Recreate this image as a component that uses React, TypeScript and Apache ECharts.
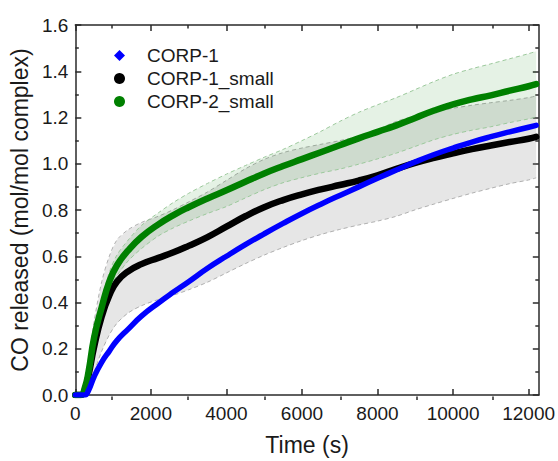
import React, { useEffect, useRef } from "react";
import * as echarts from "echarts";

// Time samples (s)
const times = [0, 150, 250, 350, 500, 700, 900, 1100, 1400, 1750, 2200, 2600, 3000, 3500, 4000, 4500, 5000, 5500, 6000, 6500, 7000, 7500, 8000, 8500, 9000, 9500, 10000, 10500, 11000, 11500, 12000, 12200];

// CO released (mol/mol complex)
const corp1 = [0, 0, 0, 0.02, 0.08, 0.142, 0.19, 0.235, 0.285, 0.341, 0.398, 0.445, 0.49, 0.548, 0.6, 0.65, 0.697, 0.742, 0.785, 0.825, 0.863, 0.9, 0.937, 0.973, 1.008, 1.04, 1.068, 1.094, 1.117, 1.138, 1.158, 1.166];
const corp1Small = [0, 0, 0.02, 0.085, 0.21, 0.34, 0.43, 0.49, 0.535, 0.566, 0.593, 0.617, 0.645, 0.683, 0.728, 0.773, 0.812, 0.843, 0.868, 0.889, 0.908, 0.927, 0.95, 0.978, 1.004, 1.026, 1.045, 1.063, 1.079, 1.094, 1.108, 1.116];
const corp2Small = [0, 0, 0.03, 0.10, 0.25, 0.38, 0.49, 0.56, 0.625, 0.683, 0.738, 0.778, 0.812, 0.85, 0.885, 0.922, 0.958, 0.99, 1.02, 1.05, 1.08, 1.11, 1.138, 1.166, 1.198, 1.23, 1.257, 1.278, 1.296, 1.316, 1.335, 1.344];

// Error (± half-width) of the shaded bands
const corp1SmallErr = [0, 0, 0.02, 0.06, 0.11, 0.15, 0.17, 0.18, 0.18, 0.18, 0.18, 0.185, 0.19, 0.195, 0.2, 0.205, 0.207, 0.205, 0.2, 0.195, 0.192, 0.192, 0.198, 0.205, 0.203, 0.2, 0.195, 0.19, 0.185, 0.18, 0.178, 0.177];
const corp2SmallErr = [0, 0, 0.01, 0.02, 0.03, 0.035, 0.04, 0.045, 0.045, 0.05, 0.05, 0.055, 0.06, 0.065, 0.07, 0.07, 0.07, 0.072, 0.08, 0.09, 0.103, 0.112, 0.117, 0.12, 0.123, 0.126, 0.13, 0.133, 0.136, 0.138, 0.141, 0.142];

// Axis ticks
const xMajorTicks = [0, 2000, 4000, 6000, 8000, 10000, 12000];
const xMinorTicks = [1000, 3000, 5000, 7000, 9000, 11000];
const X_MAX = 12270;
const Y_MAX = 1.6;

const seriesNames = ["CORP-1", "CORP-1_small", "CORP-2_small"];

export default function App() {
  const ref = useRef<HTMLDivElement>(null);

  useEffect(() => {
    document.body.style.margin = "0";
    const chart = echarts.init(ref.current as HTMLDivElement, null, { renderer: "svg" });
    const font = "'Liberation Sans', Arial, Helvetica, sans-serif";
    const axisColor = "#2a2a2a";
    const textColor = "#1a1a1a";
    const rect = { left: 74, right: 17, top: 25, bottom: 61 };

    const pts = (vals: number[]) => times.map((t, i) => [t, vals[i]]);

    const majorX = (pos: string, labels: boolean, extra: any = {}) => ({
      gridIndex: 0,
      type: "value",
      position: pos,
      min: 0,
      max: X_MAX,
      interval: 2000,
      axisLine: { show: true, onZero: false, lineStyle: { color: axisColor, width: 1.5 } },
      axisTick: { show: true, inside: true, length: 6, customValues: xMajorTicks, lineStyle: { color: axisColor, width: 1.5 } },
      axisLabel: labels
        ? { show: true, customValues: xMajorTicks, fontSize: 19, color: textColor, fontFamily: font, margin: 9, formatter: (v: number) => String(v) }
        : { show: false },
      splitLine: { show: false },
      ...extra,
    });
    const minorX = (pos: string) => ({
      gridIndex: 1,
      type: "value",
      position: pos,
      min: 0,
      max: X_MAX,
      interval: 1000,
      axisLine: { show: false, onZero: false },
      axisTick: { show: true, inside: true, length: 3.5, customValues: xMinorTicks, lineStyle: { color: axisColor, width: 1.5 } },
      axisLabel: { show: false },
      splitLine: { show: false },
    });
    const yAx = (pos: string, labels: boolean, extra: any = {}) => ({
      gridIndex: 0,
      type: "value",
      position: pos,
      min: 0,
      max: Y_MAX,
      interval: 0.2,
      axisLine: { show: true, onZero: false, lineStyle: { color: axisColor, width: 1.5 } },
      axisTick: { show: true, inside: true, length: 6, lineStyle: { color: axisColor, width: 1.5 } },
      minorTick: { show: true, splitNumber: 2, length: 3.5, lineStyle: { color: axisColor, width: 1.5 } },
      axisLabel: labels
        ? { show: true, fontSize: 19, color: textColor, fontFamily: font, margin: 7, formatter: (v: number) => v.toFixed(1) }
        : { show: false },
      splitLine: { show: false },
      ...extra,
    });

    const band = (name: string, vals: number[], errs: number[], dash: string, fill: string) => ({
      name,
      type: "custom",
      xAxisIndex: 0,
      yAxisIndex: 0,
      silent: true,
      z: 1,
      data: [[0, 0]],
      encode: { x: 0, y: 1 },
      renderItem: (_params: any, api: any) => {
        const upper = times.map((t, i) => api.coord([t, vals[i] + errs[i]]));
        const lower = times.map((t, i) => api.coord([t, vals[i] - errs[i]]));
        const ring = upper.concat(lower.slice().reverse());
        const dashStyle = { stroke: dash, lineWidth: 1, lineDash: [4, 3], fill: "none" };
        return {
          type: "group",
          children: [
            { type: "polygon", shape: { points: ring }, style: { fill, stroke: "none" } },
            { type: "polyline", shape: { points: upper, smooth: 0.3 }, style: dashStyle },
            { type: "polyline", shape: { points: lower, smooth: 0.3 }, style: dashStyle },
          ],
        };
      },
    });
    const curve = (name: string, data: number[][], color: string, width: number, z: number) => ({
      name,
      type: "line",
      xAxisIndex: 0,
      yAxisIndex: 0,
      data,
      color,
      symbol: "none",
      smooth: 0.5,
      z,
      itemStyle: { color },
      lineStyle: { color, width, cap: "round", join: "round" },
    });

    chart.setOption({
      animation: false,
      grid: [{ ...rect }, { ...rect }],
      xAxis: [
        majorX("bottom", true, {
          name: "Time (s)",
          nameLocation: "middle",
          nameGap: 38,
          nameTextStyle: { fontSize: 23, color: textColor, fontFamily: font },
        }),
        majorX("top", false),
        minorX("bottom"),
        minorX("top"),
      ],
      yAxis: [
        yAx("left", true, {
          name: "CO released (mol/mol complex)",
          nameLocation: "middle",
          nameGap: 44,
          nameTextStyle: { fontSize: 23, color: textColor, fontFamily: font },
        }),
        yAx("right", false),
        { gridIndex: 1, type: "value", min: 0, max: Y_MAX, show: false },
      ],
      legend: {
        orient: "vertical",
        left: 114,
        top: 46,
        padding: 0,
        itemWidth: 11,
        itemHeight: 11,
        itemGap: 4,
        textStyle: { fontSize: 19, lineHeight: 19, color: textColor, fontFamily: font, padding: [0, 0, 0, 17] },
        data: [
          { name: seriesNames[0], icon: "diamond" },
          { name: seriesNames[1], icon: "circle" },
          { name: seriesNames[2], icon: "circle" },
        ],
      },
      series: [
        band("CORP-1_small error", corp1Small, corp1SmallErr, "#b0b0b0", "rgba(128,128,128,0.2)"),
        band("CORP-2_small error", corp2Small, corp2SmallErr, "#9cc99c", "rgba(0,128,0,0.1)"),
        curve(seriesNames[1], pts(corp1Small), "#000000", 6.5, 3),
        curve(seriesNames[2], pts(corp2Small), "#008000", 6.5, 4),
        curve(seriesNames[0], pts(corp1), "#0000ff", 5.5, 5),
      ],
    });

    return () => chart.dispose();
  }, []);

  return (
    <div
      ref={ref}
      style={{ position: "absolute", left: 0, top: 0, width: 558, height: 461, background: "#fff" }}
    />
  );
}
